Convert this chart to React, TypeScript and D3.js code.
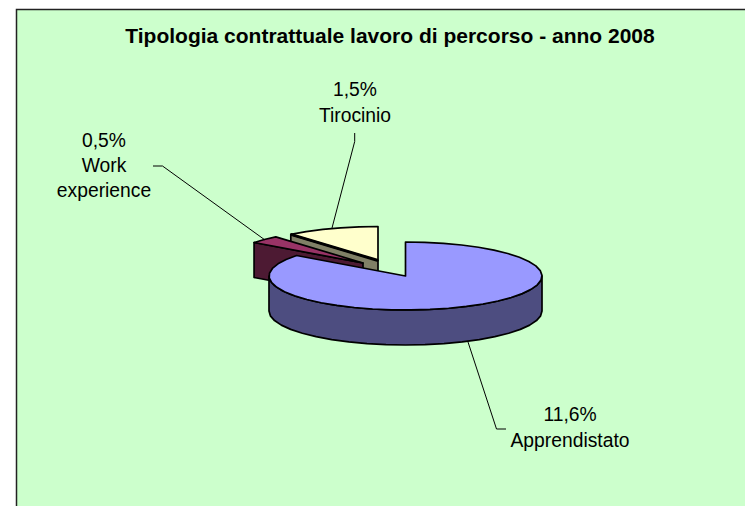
import React from "react";
import * as d3 from "d3";

const sliceNames = ["Apprendistato", "Work experience", "Tirocinio"];
const sliceValues = [11.6, 0.5, 1.5];
const topColors = ["#9999FF", "#993366", "#FFFFCC"];
const sideColors = ["#4D4D80", "#4D1A33", "#808066"];
const chartTitle = "Tipologia contrattuale lavoro di percorso - anno 2008";

const RX = 136.5, RY = 34, DEPTH = 35;
const centers: [number, number][] = [[405.5, 276], [363, 263], [378, 260.5]];

const pie = d3.pie<number>().sort(null).startAngle(0).endAngle(2 * Math.PI);
const arcs = pie(sliceValues);

const pt = (c: [number, number], a: number, dy = 0): [number, number] => [
  c[0] + RX * Math.sin(a),
  c[1] - RY * Math.cos(a) + dy,
];
const samples = (a0: number, a1: number) => {
  const n = Math.max(2, Math.ceil(Math.abs(a1 - a0) / (Math.PI / 22)));
  return d3.range(n + 1).map((i) => a0 + ((a1 - a0) * i) / n);
};
const line = d3.line<[number, number]>();

const top = (i: number) => {
  const c = centers[i];
  const a = arcs[i];
  return line([c, ...samples(a.startAngle, a.endAngle).map((t) => pt(c, t))])! + "Z";
};
const rim = (i: number, a0: number, a1: number) => {
  const c = centers[i];
  const s = samples(a0, a1);
  return line([...s.map((t) => pt(c, t)), ...s.slice().reverse().map((t) => pt(c, t, DEPTH))])! + "Z";
};
const wall = (i: number, a: number) => {
  const c = centers[i];
  const p = pt(c, a);
  return line([c, p, [p[0], p[1] + DEPTH], [c[0], c[1] + DEPTH]])! + "Z";
};

const S = { stroke: "#000", strokeWidth: 1.7, strokeLinejoin: "round" as const };
const font = "'Liberation Sans', Arial, sans-serif";

const leaders = [
  [[468, 342], [496.5, 429], [506, 429]],
  [[265, 240], [162.5, 166], [153, 166]],
  [[332, 228], [354.7, 141.5], [354.7, 133]],
] as [number, number][][];

const labels = [
  { lines: ["11,6%", sliceNames[0]], x: 570, ys: [421, 446.5] },
  { lines: ["0,5%", "Work", "experience"], x: 104, ys: [147, 171.5, 196.5] },
  { lines: ["1,5%", sliceNames[2]], x: 355, ys: [96, 121.5] },
];

export default function App() {
  return (
    <svg
      width={745}
      height={506}
      style={{ position: "fixed", left: 0, top: 0, background: "#fff" }}
    >
      <rect x={16.5} y={9.5} width={740} height={510} fill="#CCFFCC" stroke="#222" strokeWidth={1.5} />
      <text x={390} y={43} textAnchor="middle" fontFamily={font} fontWeight="bold" fontSize={21}>
        {chartTitle}
      </text>

      {/* Tirocinio */}
      <path d={wall(2, arcs[2].startAngle)} fill={sideColors[2]} {...S} />
      <path d={top(2)} fill={topColors[2]} {...S} />
      <path d={line([centers[2], pt(centers[2], arcs[2].startAngle)])!} stroke="#000" strokeWidth={3} fill="none" />

      {/* Work experience */}
      <path d={wall(1, arcs[1].startAngle)} fill={sideColors[1]} {...S} />
      <path d={top(1)} fill={topColors[1]} {...S} />

      {/* Apprendistato */}
      <path d={rim(0, Math.PI / 2, (3 * Math.PI) / 2)} fill={sideColors[0]} {...S} />
      <path d={top(0)} fill={topColors[0]} {...S} />

      {leaders.map((l, i) => (
        <path key={i} d={line(l)!} fill="none" stroke="#000" strokeWidth={1} />
      ))}

      {labels.map((l, i) => (
        <text key={i} textAnchor="middle" fontFamily={font} fontSize={19.3} fill="#000">
          {l.lines.map((t, j) => (
            <tspan key={j} x={l.x} y={l.ys[j]}>{t}</tspan>
          ))}
        </text>
      ))}
    </svg>
  );
}
